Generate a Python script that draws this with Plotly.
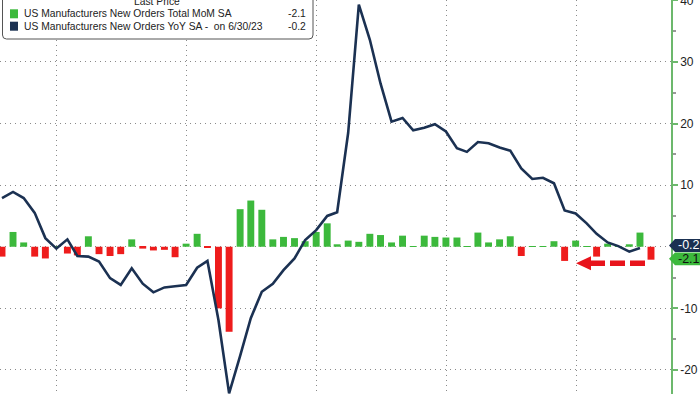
import pandas as pd
import plotly.graph_objects as go

# ---------------- data ----------------
mom_start, mom_end = "2018-07", "2023-07"
mom_values = [
    -1.6, 2.4, 0.7, -1.6, -1.9, 0.1,            # Jul-Dec 2018
    -1.1, -1.4, 1.7, -1.2, -1.5, -1.2,          # Jan-Jun 2019
    1.2, -0.3, -0.6, -0.5, -1.7, 0.5,           # Jul-Dec 2019
    2.1, -0.1, -10.0, -13.8, 6.1, 7.5,          # Jan-Jun 2020
    6.0, 1.2, 1.6, 1.4, 0.9, 2.4,               # Jul-Dec 2020
    3.8, 0.4, 1.0, 0.8, 2.1, 1.9,               # Jan-Jun 2021
    0.7, 1.8, 0.1, 1.8, 1.6, 1.5,               # Jul-Dec 2021
    1.5, 0.1, 2.3, 0.7, 1.2, 1.7,               # Jan-Jun 2022
    -1.5, 0.05, 0.1, 0.9, -2.3, 1.0,            # Jul-Dec 2022
    0.05, -1.6, 0.5, 0.1, 0.4, 2.3,             # Jan-Jun 2023
    -2.1,                                       # Jul 2023
]
yoy_start, yoy_end = "2018-07", "2023-06"
yoy_values = [
    7.9, 8.9, 7.9, 5.5, 1.4, -0.3,
    1.2, -1.5, -1.6, -2.4, -5.1, -6.2,
    -3.5, -6.0, -7.4, -6.6, -6.4, -6.2,
    -3.4, -2.3, -11.9, -23.8, -17.7, -11.6,
    -7.3, -6.0, -3.8, -1.9, 1.1, 2.7,
    5.0, 5.6, 18.5, 39.3, 33.6, 26.5,
    20.3, 20.9, 18.9, 19.3, 19.9, 18.7,
    16.0, 15.4, 17.0, 16.8, 16.1, 15.6,
    12.7, 11.0, 11.2, 10.3, 5.9, 5.4,
    3.8, 2.1, 0.7, 0.1, -0.8, -0.2,
]
y_tick_values = [-20, -10, 0, 10, 20, 30, 40]
y_tick_labels = ["-20", "-10", "", "10", "20", "30", "40"]
legend_names = ["US Manufacturers New Orders Total MoM SA",
                "US Manufacturers New Orders YoY SA -&nbsp;&nbsp;on 6/30/23"]
last_values = ["-2.1", "-0.2"]

# ---------------- styling ----------------
GREEN = "#3cb93c"
RED = "#ee1c1c"
NAVY = "#1b3152"
AXIS_GREEN = "#6cb86c"
FONT = "Liberation Sans, Arial"
LEG_SIZE = 10.3
W, H = 700, 394
PLOT_W = 671


def month_end(start, end):
    return pd.period_range(start, end, freq="M").to_timestamp(how="end").normalize()


mom_x = month_end(mom_start, mom_end)
yoy_x = month_end(yoy_start, yoy_end)
bar_colors = [GREEN if v >= 0 else RED for v in mom_values]

fig = go.Figure()
fig.add_trace(go.Bar(
    x=mom_x, y=mom_values, marker=dict(color=bar_colors, line=dict(width=0)),
    width=19.5 * 86400000, name=legend_names[0],
))
fig.add_trace(go.Scatter(
    x=yoy_x, y=yoy_values, mode="lines", line=dict(color=NAVY, width=2.6),
    name=legend_names[1],
))


def px(x):
    return x / PLOT_W


def py(y):
    return 1 - y / H


shapes = []
annotations = []

# legend box (rounded)
x0, x1, y0, y1, r = 2.5, 313, -4, 39, 4
path = (f"M {px(x0)},{py(y0)} L {px(x1)},{py(y0)} L {px(x1)},{py(y1 - r)} "
        f"Q {px(x1)},{py(y1)} {px(x1 - r)},{py(y1)} L {px(x0 + r)},{py(y1)} "
        f"Q {px(x0)},{py(y1)} {px(x0)},{py(y1 - r)} Z")
shapes.append(dict(type="path", xref="paper", yref="paper", path=path,
                   fillcolor="white", line=dict(color="#555", width=1), layer="above"))
annotations.append(dict(xref="paper", yref="paper", x=px(157), y=py(1.5), text="Last Price",
                        showarrow=False, xanchor="center", yanchor="middle",
                        font=dict(family=FONT, size=LEG_SIZE, color="#222")))
for i, (name, val, col) in enumerate(zip(legend_names, last_values, [GREEN, NAVY])):
    yc = 13.8 + 12.4 * i
    shapes.append(dict(type="rect", xref="paper", yref="paper",
                       x0=px(10), x1=px(18), y0=py(yc - 4.5), y1=py(yc + 4.5),
                       fillcolor=col, line=dict(width=0), layer="above"))
    annotations.append(dict(xref="paper", yref="paper", x=px(22), y=py(yc), text=name,
                            showarrow=False, xanchor="left", yanchor="middle",
                            font=dict(family=FONT, size=LEG_SIZE, color="#222")))
    annotations.append(dict(xref="paper", yref="paper", x=px(308), y=py(yc), text=val,
                            showarrow=False, xanchor="right", yanchor="middle",
                            font=dict(family=FONT, size=LEG_SIZE, color="#222")))

# right-side last value tags
tags = [(245.5, NAVY, "white", last_values[1]), (258.8, GREEN, "#111", last_values[0])]
for yc, fill, tcol, txt in tags:
    h = 6.4
    p = (f"M {px(669)},{py(yc)} L {px(675)},{py(yc - h)} L {px(702)},{py(yc - h)} "
         f"L {px(702)},{py(yc + h)} L {px(675)},{py(yc + h)} Z")
    shapes.append(dict(type="path", xref="paper", yref="paper", path=p,
                       fillcolor=fill, line=dict(width=0), layer="above"))
    annotations.append(dict(xref="paper", yref="paper", x=px(688.5), y=py(yc), text=txt,
                            showarrow=False, xanchor="center", yanchor="middle",
                            font=dict(family=FONT, size=12.5, color=tcol)))

# red dashed arrow
ay = 263.3
shapes.append(dict(type="line", xref="paper", yref="paper",
                   x0=px(590), x1=px(646), y0=py(ay), y1=py(ay),
                   line=dict(color="#e8141c", width=5.5, dash="15px,5px"), layer="above"))
shapes.append(dict(type="path", xref="paper", yref="paper",
                   path=f"M {px(576)},{py(ay)} L {px(591)},{py(ay - 7)} L {px(591)},{py(ay + 7)} Z",
                   fillcolor="#e8141c", line=dict(width=0), layer="above"))

# x range: computed so that monthly bars land at ~10.86 px spacing
day_px = 574 / (pd.Timestamp("2023-01-01") - pd.Timestamp("2018-07-31")).days
left = pd.Timestamp("2018-07-31") - pd.Timedelta(days=2 / day_px)
right = pd.Timestamp("2018-07-31") + pd.Timedelta(days=669 / day_px)

fig.update_layout(
    width=W, height=H, margin=dict(l=0, r=W - PLOT_W, t=0, b=0, autoexpand=False),
    paper_bgcolor="white", plot_bgcolor="white", showlegend=False,
    shapes=shapes, annotations=annotations,
    xaxis=dict(range=[left, right], showticklabels=False, ticks="",
               showgrid=True, gridcolor="#8a8a8a", griddash="1px,4px", gridwidth=1,
               dtick="M12", tick0="2019-01-01", zeroline=False, showline=False),
    yaxis=dict(side="right", range=[-23.9, 40.05], tickvals=y_tick_values,
               ticktext=y_tick_labels, ticks="outside", ticklen=5, tickwidth=2,
               tickcolor=AXIS_GREEN, showline=True, linecolor=AXIS_GREEN, linewidth=1.5,
               showgrid=True, gridcolor="#8a8a8a", griddash="1px,4px", gridwidth=1,
               zeroline=False, automargin=False, ticklabeloverflow="allow",
               minor=dict(tickvals=[-15, -5, 5, 15, 25, 35], ticks="outside",
                          ticklen=3, tickcolor="#999", showgrid=False),
               tickfont=dict(family=FONT, size=12, color="#222")),
)

fig.write_html("out.html", config={"displayModeBar": False},
               post_script="document.body.style.margin='0';document.body.style.padding='0';")
